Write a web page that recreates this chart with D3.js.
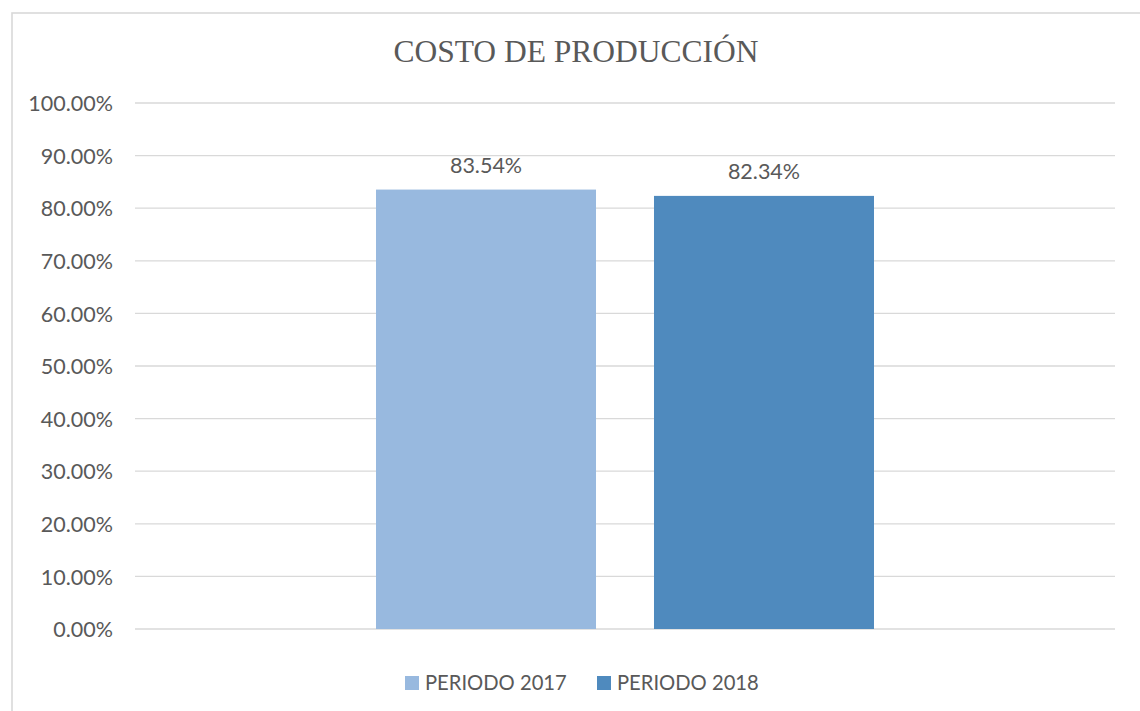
<!DOCTYPE html>
<html><head><meta charset="utf-8">
<script src="https://cdn.jsdelivr.net/npm/d3@7"></script>
<style>body{margin:0;background:#fff;} svg{display:block;}</style>
</head><body>
<svg id="c" width="1140" height="711"></svg>
<script>
const title = "COSTO DE PRODUCCIÓN";
const series = ["PERIODO 2017", "PERIODO 2018"];
const values = [0.8354, 0.8234];
const labels = ["83.54%", "82.34%"];
const colors = ["#98B9DF", "#4F8ABE"];
const ticks = [0, 0.1, 0.2, 0.3, 0.4, 0.5, 0.6, 0.7, 0.8, 0.9, 1.0];

const svg = d3.select("#c");
const textColor = "#595959";
const font = "Lato, 'Open Sans', sans-serif";

// chart border
svg.append("rect").attr("x", 12).attr("y", 13).attr("width", 1150).attr("height", 720)
  .attr("fill", "none").attr("stroke", "#D9D9D9").attr("stroke-width", 1.6);

const plot = {left: 135, right: 1115, top: 103, bottom: 629};
const y = d3.scaleLinear().domain([0, 1]).range([plot.bottom, plot.top]);
const x = d3.scaleBand().domain(series).range([plot.left, plot.right])
  .paddingInner(0.2086).paddingOuter(0.867);

// title
svg.append("text").attr("x", 576).attr("y", 62).attr("text-anchor", "middle")
  .attr("font-family", "'Liberation Serif', 'Times New Roman', serif")
  .attr("font-size", 31.5).attr("fill", textColor).text(title);

// gridlines
svg.append("g").selectAll("line").data(ticks).join("line")
  .attr("x1", plot.left).attr("x2", plot.right)
  .attr("y1", d => y(d)).attr("y2", d => y(d))
  .attr("stroke", "#D9D9D9").attr("stroke-width", 1.3);

// y axis labels
const axis = d3.axisLeft(y).tickValues(ticks).tickFormat(d3.format(".2%")).tickSize(0).tickPadding(0);
const gAxis = svg.append("g").attr("transform", `translate(113,0)`).call(axis);
gAxis.select(".domain").remove();
gAxis.selectAll("text").attr("font-family", font).attr("font-size", 21.5)
  .attr("fill", textColor).attr("dy", "0.36em");

// bars
svg.append("g").selectAll("rect").data(values).join("rect")
  .attr("x", (d, i) => x(series[i])).attr("width", x.bandwidth())
  .attr("y", d => y(d)).attr("height", d => y(0) - y(d))
  .attr("fill", (d, i) => colors[i]);

// data labels
svg.append("g").selectAll("text").data(values).join("text")
  .attr("x", (d, i) => x(series[i]) + x.bandwidth() / 2)
  .attr("y", d => y(d) - 17).attr("text-anchor", "middle")
  .attr("font-family", font).attr("font-size", 21.5).attr("fill", textColor)
  .text((d, i) => labels[i]);

// legend
const legX = [405, 597];
const leg = svg.append("g").selectAll("g").data(series).join("g")
  .attr("transform", (d, i) => `translate(${legX[i]},676)`);
leg.append("rect").attr("width", 14).attr("height", 14).attr("fill", (d, i) => colors[i]);
leg.append("text").attr("x", 20).attr("y", 7).attr("dy", "0.36em")
  .attr("font-family", font).attr("font-size", 20.2).attr("fill", textColor).text(d => d);
</script>
</body></html>
